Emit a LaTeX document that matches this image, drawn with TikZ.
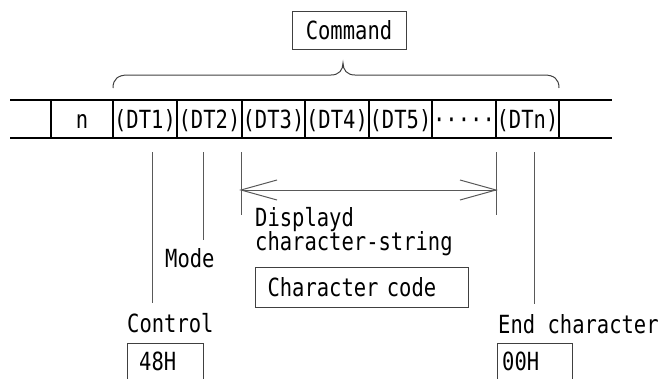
\documentclass[tikz,border=0pt]{standalone}
\usepackage{fontspec}
\setmainfont[FakeStretch=0.82]{DejaVu Sans Mono}
\newcommand{\fsz}{\fontsize{25}{26}\selectfont}
\begin{document}
\begin{tikzpicture}[x=1pt,y=-1pt,
  rowline/.style={line width=1.6pt,black},
  guide/.style={line width=1pt,black!65},
  boxline/.style={line width=1pt,draw=black!75,text=black},
  lbl/.style={inner sep=0pt,anchor=base west,font=\fsz},
  celltxt/.style={inner sep=0pt,anchor=base,font=\fsz}]
\useasboundingbox (0,0) rectangle (662,378);
% command box
\node[boxline,draw,minimum width=114pt,minimum height=38pt,inner sep=0pt,
      font=\fsz] (cmd) at (349,30) {Command};
% brace
\draw[line width=1pt,black!75] (113,88) .. controls (113,79) and (118,75) .. (128,75)
  -- (331,75) .. controls (339,75) and (343,70) .. (343,63)
  .. controls (343,70) and (347,75) .. (355,75)
  -- (544,75) .. controls (554,75) and (559,79) .. (559,88);
% row
\draw[rowline] (10,100) -- (612,100);
\draw[rowline] (10,138) -- (612,138);
\foreach \x in {51,113,177,242,305,369,432,496,559}
  \draw[rowline] (\x,100) -- (\x,138);
\node[celltxt] (n)   at (82,128)  {n};
\node[celltxt] (dt1) at (145,128) {(DT1)};
\node[celltxt] (dt2) at (209.5,128) {(DT2)};
\node[celltxt] (dt3) at (273.5,128) {(DT3)};
\node[celltxt] (dt4) at (337,128) {(DT4)};
\node[celltxt] (dt5) at (400.5,128) {(DT5)};
\node[celltxt] (dots) at (464,128) {·····};
\node[celltxt] (dtn) at (527.5,128) {(DTn)};
% guide lines
\coordinate (c1) at (152,152); \coordinate (c2) at (152,303);
\coordinate (m1) at (203,152); \coordinate (m2) at (203,240);
\coordinate (s1) at (241,152); \coordinate (s2) at (241,215);
\coordinate (e1) at (496,152); \coordinate (e2) at (496,215);
\coordinate (z1) at (534,152); \coordinate (z2) at (534,304);
\draw[guide] (c1) -- (c2);
\draw[guide] (m1) -- (m2);
\draw[guide] (s1) -- (s2);
\draw[guide] (e1) -- (e2);
\draw[guide] (z1) -- (z2);
% double arrow
\coordinate (al) at (241,190);
\coordinate (ar) at (496,190);
\draw[guide] (al) -- (ar);
\draw[guide] (277,180) -- (al) -- (277,200);
\draw[guide] (460,180) -- (ar) -- (460,200);
% labels
\node[lbl] (disp) at (255,226) {Displayd};
\node[lbl] (chs) at (255,250) {character-string};
\node[lbl] (mode) at (165,267) {Mode};
\node[boxline,draw,anchor=north west,minimum height=40pt,text width=189pt,
      inner xsep=12pt,inner ysep=0pt,align=left,
      font=\fsz] (code) at (255,267) {Character code};
\node[lbl] (ctrl) at (127,332) {Control};
\node[lbl] (endc) at (498,333) {End character};
% 48H and 00H boxes (open at bottom)
\draw[boxline] (127,380) -- (127,343) -- (203,343) -- (203,380);
\node[lbl] (h48) at (139,370) {48H};
\draw[boxline] (497,380) -- (497,343) -- (572,343) -- (572,380);
\node[lbl] (h00) at (502,370) {00H};
\end{tikzpicture}
\end{document}
